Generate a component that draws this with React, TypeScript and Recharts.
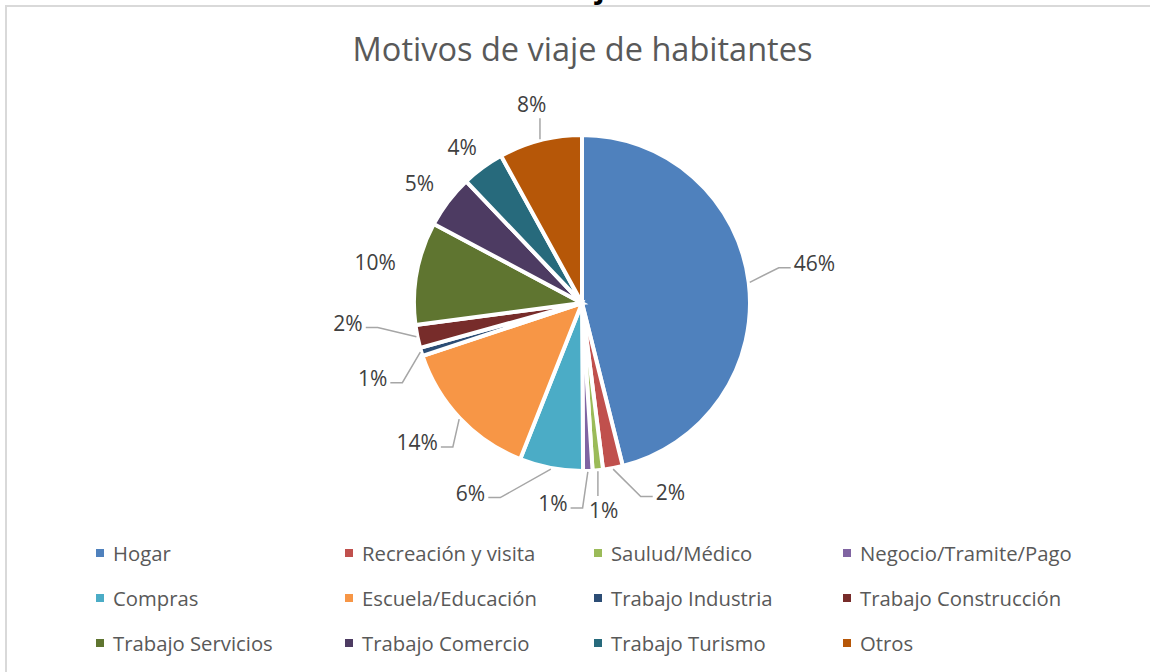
import React from "react";
import { PieChart, Pie, Cell, Legend } from "recharts";

const categories = [
  "Hogar",
  "Recreación y visita",
  "Saulud/Médico",
  "Negocio/Tramite/Pago",
  "Compras",
  "Escuela/Educación",
  "Trabajo Industria",
  "Trabajo Construcción",
  "Trabajo Servicios",
  "Trabajo Comercio",
  "Trabajo Turismo",
  "Otros",
];

// share of trips, %
const shares = [46.1, 1.9, 1.0, 0.9, 6.1, 13.9, 0.8, 2.2, 9.9, 5.1, 4.1, 8.0];

const colors = [
  "#4F81BD",
  "#C0504D",
  "#9BBB59",
  "#8064A2",
  "#4BACC6",
  "#F79646",
  "#2C4D75",
  "#772C2A",
  "#5F7530",
  "#4D3B62",
  "#276A7C",
  "#B65708",
];

// small shifts of each % label away from its default outside spot (best-fit look)
const labelNudge: [number, number][] = [
  [36, -16],
  [52, -6],
  [3, 10],
  [-36, 2],
  [-75, -5],
  [-21, 3],
  [-20, 17],
  [-40, -20],
  [-12, -6],
  [-5, 0],
  [-3, 4],
  [-1, -7],
];

const data = categories.map((name, i) => ({ name, value: shares[i] }));

const RAD = Math.PI / 180;
const LABEL_FONT = 21;
const FONT = "'Open Sans', sans-serif";

function halfWidth(s: string) {
  let w = 0;
  for (const ch of s) w += ch === "%" ? 0.834 : 0.572;
  return (w * LABEL_FONT) / 2;
}

function renderLabel(props: any) {
  const { cx, cy, midAngle, outerRadius, percent, index } = props;
  const cos = Math.cos(midAngle * RAD);
  const sin = Math.sin(midAngle * RAD);
  const r = outerRadius + 30;
  const [nx, ny] = labelNudge[index] || [0, 0];
  const tx = cx + r * cos + nx;
  const ty = cy - r * sin + ny;
  const text = `${Math.round(percent * 100)}%`;
  const hw = halfWidth(text);

  const ex = cx + (outerRadius + 1) * cos;
  const ey = cy - (outerRadius + 1) * sin;
  const bx = Math.max(tx - hw - 2 - ex, 0, ex - (tx + hw + 2));
  const by = Math.max(ty - 11 - ey, 0, ey - (ty + 11));

  let line = null;
  if (Math.hypot(bx, by) > 20) {
    let pts: string;
    if (Math.abs(ex - tx) < hw) {
      const endY = ey < ty ? ty - 14 : ty + 14;
      pts = `${ex},${ey} ${ex},${endY}`;
    } else {
      const side = tx > ex ? -1 : 1;
      const endX = tx + side * (hw + 3);
      const ly = ty + 5;
      pts = `${ex},${ey} ${endX + side * 12},${ly} ${endX},${ly}`;
    }
    line = <polyline points={pts} fill="none" stroke="#a6a6a6" strokeWidth={1.5} />;
  }

  return (
    <g>
      {line}
      <text
        x={tx}
        y={ty}
        textAnchor="middle"
        dominantBaseline="central"
        fill="#404040"
        fontSize={LABEL_FONT}
        fontFamily={FONT}
      >
        {text}
      </text>
    </g>
  );
}

function renderLegend(props: any) {
  const fromPayload: Record<string, string> = {};
  (props.payload || []).forEach((p: any) => {
    fromPayload[p.value] = p.color;
  });
  const items = categories.map((name, i) => ({ name, color: fromPayload[name] || colors[i] }));
  return (
    <div style={{ display: "grid", gridTemplateColumns: "repeat(4, 249px)" }}>
      {items.map((it) => (
        <div
          key={it.name}
          style={{ display: "flex", alignItems: "center", height: 45, whiteSpace: "nowrap" }}
        >
          <span style={{ width: 8, height: 8, background: it.color, marginRight: 9, display: "inline-block" }} />
          <span style={{ fontFamily: FONT, fontSize: 20.3, color: "#595959" }}>{it.name}</span>
        </div>
      ))}
    </div>
  );
}

export default function App() {
  return (
    <div
      style={{
        position: "absolute",
        left: 0,
        top: 0,
        width: 1150,
        height: 672,
        overflow: "hidden",
        background: "#fff",
      }}
    >
      <div
        style={{
          position: "absolute",
          left: 596,
          top: -27,
          fontFamily: FONT,
          fontWeight: 700,
          fontSize: 28,
          lineHeight: 1,
          color: "#000",
        }}
      >
        j
      </div>
      <div
        style={{
          position: "absolute",
          left: 5,
          top: 5,
          width: 1200,
          height: 720,
          borderTop: "2px solid #d9d9d9",
          borderLeft: "2px solid #d9d9d9",
        }}
      />
      <div
        style={{
          position: "absolute",
          left: 0,
          width: 1165,
          top: 27,
          textAlign: "center",
          fontFamily: FONT,
          fontSize: 32.5,
          color: "#595959",
          lineHeight: "44px",
        }}
      >
        Motivos de viaje de habitantes
      </div>
      <div style={{ position: "absolute", left: 0, top: 0 }}>
        <PieChart width={1150} height={672} margin={{ top: 0, right: 0, bottom: 0, left: 0 }}>
          <Pie
            data={data}
            dataKey="value"
            nameKey="name"
            cx={582}
            cy={303}
            outerRadius={168}
            startAngle={90}
            endAngle={-270}
            stroke="#ffffff"
            strokeWidth={4}
            label={renderLabel}
            labelLine={false}
            isAnimationActive={false}
          >
            {data.map((d, i) => (
              <Cell key={d.name} fill={colors[i]} />
            ))}
          </Pie>
          <Legend
            content={renderLegend}
            wrapperStyle={{ position: "absolute", left: 96, top: 530, width: 1000 }}
          />
        </PieChart>
      </div>
    </div>
  );
}
